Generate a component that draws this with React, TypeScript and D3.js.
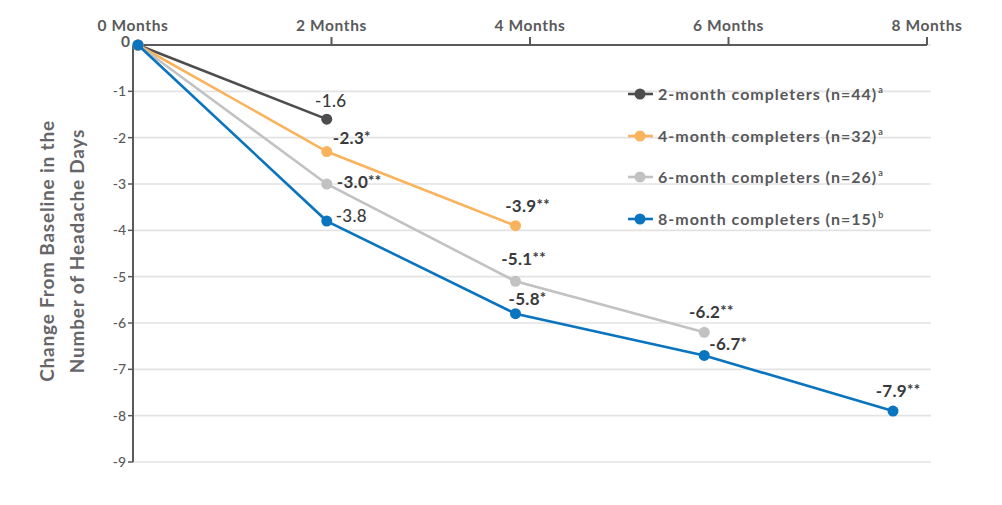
import React from "react";
import * as d3 from "d3";

const monthTicks = [0, 2, 4, 6, 8];
const monthTickLabels = ["0 Months", "2 Months", "4 Months", "6 Months", "8 Months"];
const yTicks = [0, -1, -2, -3, -4, -5, -6, -7, -8, -9];

const seriesNames = [
  "2-month completers (n=44)",
  "4-month completers (n=32)",
  "6-month completers (n=26)",
  "8-month completers (n=15)",
];
const seriesSup = ["a", "a", "a", "b"];
const seriesMonths = [
  [0, 2],
  [0, 2, 4],
  [0, 2, 4, 6],
  [0, 2, 4, 6, 8],
];
const values2 = [0, -1.6];
const values4 = [0, -2.3, -3.9];
const values6 = [0, -3.0, -5.1, -6.2];
const values8 = [0, -3.8, -5.8, -6.7, -7.9];
const labels2 = ["", "-1.6"];
const labels4 = ["", "-2.3*", "-3.9**"];
const labels6 = ["", "-3.0**", "-5.1**", "-6.2**"];
const labels8 = ["", "-3.8", "-5.8*", "-6.7*", "-7.9**"];

const seriesValues = [values2, values4, values6, values8];
const seriesLabels = [labels2, labels4, labels6, labels8];
const colors = ["#4d4d4f", "#f9b35c", "#c2c2c2", "#0a74bf"];

// label placement style: [dx, dy, anchor] per series per point
const labelStyle: [number, number, string][][] = [
  [[0, 0, "middle"], [4, -12, "middle"]],
  [[0, 0, "middle"], [6, -8, "start"], [12, -14, "middle"]],
  [[0, 0, "middle"], [10, 4, "start"], [8, -16, "middle"], [7, -14, "middle"]],
  [[0, 0, "middle"], [9, 1, "start"], [12, -9, "middle"], [5, -5, "start"], [5, -14, "middle"]],
];

const FONT = "Lato, 'Open Sans', sans-serif";

export default function App() {
  const W = 1002;
  const H = 505;
  const axisX = d3.scaleLinear().domain([0, 8]).range([133, 927]);
  const dataX = d3.scaleLinear().domain([0, 8]).range([138, 893]);
  const y = d3.scaleLinear().domain([0, -9]).range([45, 462]);
  const line = d3
    .line<[number, number]>()
    .x((d) => dataX(d[0]))
    .y((d) => y(d[1]));

  return (
    <svg
      width={W}
      height={H}
      style={{ position: "absolute", left: 0, top: 0, background: "#fff" }}
      fontFamily={FONT}
    >
      {/* gridlines */}
      {yTicks.map((t) => (
        <line
          key={"g" + t}
          x1={133}
          x2={931}
          y1={y(t)}
          y2={y(t)}
          stroke="#e3e3e3"
          strokeWidth={1.6}
        />
      ))}
      {/* top axis */}
      <line x1={133} x2={axisX(8)} y1={y(0)} y2={y(0)} stroke="#5a5a5c" strokeWidth={2} />
      {monthTicks.map((m, i) => (
        <g key={"xt" + m}>
          {m > 0 && (
            <line
              x1={axisX(m)}
              x2={axisX(m)}
              y1={y(0)}
              y2={y(0) - 8}
              stroke="#5a5a5c"
              strokeWidth={2}
            />
          )}
          <text
            x={axisX(m)}
            y={31}
            textAnchor="middle"
            fontSize={15.5}
            fontWeight={700}
            letterSpacing={0.6}
            fill="#5a5a5c"
          >
            {monthTickLabels[i]}
          </text>
        </g>
      ))}
      {/* left axis */}
      <line x1={133} x2={133} y1={y(0)} y2={y(-9)} stroke="#5a5a5c" strokeWidth={2} />
      {yTicks.map((t) => (
        <g key={"yt" + t}>
          {t !== 0 && (
            <line x1={128} x2={133} y1={y(t)} y2={y(t)} stroke="#5a5a5c" strokeWidth={1.5} />
          )}
          <text
            x={t === 0 ? 130 : 126}
            y={y(t) + (t === 0 ? 2 : 5)}
            textAnchor="end"
            fontSize={t === 0 ? 15.5 : 14}
            fontWeight={t === 0 ? 700 : 500}
            fill="#5a5a5c"
          >
            {t}
          </text>
        </g>
      ))}
      {/* y title */}
      <g
        transform="translate(0,251) rotate(-90)"
        fill="#666668"
        fontWeight={700}
        fontSize={19}
        letterSpacing={0.8}
      >
        <text x={0} y={54} textAnchor="middle">
          Change From Baseline in the
        </text>
        <text x={0} y={84} textAnchor="middle">
          Number of Headache Days
        </text>
      </g>
      {/* series lines and dots */}
      {seriesValues.map((vals, si) => {
        const pts: [number, number][] = vals.map((v, j) => [seriesMonths[si][j], v]);
        return (
          <g key={"s" + si}>
            <path d={line(pts) || ""} fill="none" stroke={colors[si]} strokeWidth={2.6} />
            {pts.map((p, j) => (
              <circle
                key={j}
                cx={dataX(p[0])}
                cy={y(p[1])}
                r={5.5}
                fill={colors[si]}
              />
            ))}
          </g>
        );
      })}
      {/* data labels */}
      {seriesValues.map((vals, si) =>
        vals.map((v, j) => {
          const lab = seriesLabels[si][j];
          if (!lab) return null;
          const [dx, dy, anchor] = labelStyle[si][j];
          const m = lab.match(/^(-?[\d.]+)(\**)$/);
          const num = m ? m[1] : lab;
          const star = m ? m[2] : "";
          const regular = star === "";
          return (
            <text
              key={"l" + si + "-" + j}
              x={dataX(seriesMonths[si][j]) + dx}
              y={y(v) + dy}
              textAnchor={anchor}
              fontSize={17}
              fontWeight={regular ? 500 : 700}
              letterSpacing={0.3}
              fill="#3a3a3c"
            >
              {num}
              {star && (
                <tspan fontSize={15} dy={-2}>
                  {star}
                </tspan>
              )}
            </text>
          );
        })
      )}
      {/* legend */}
      {seriesNames.map((name, i) => {
        const ly = [94, 136, 177, 219][i];
        return (
          <g key={"lg" + i}>
            <line x1={628} x2={653} y1={ly} y2={ly} stroke={colors[i]} strokeWidth={2.6} />
            <circle cx={640} cy={ly} r={5.5} fill={colors[i]} />
            <text
              x={658}
              y={ly + 6}
              fontSize={16}
              fontWeight={700}
              letterSpacing={1}
              fill="#58585a"
            >
              {name}
              <tspan fontSize={9} dy={-7} dx={1} letterSpacing={0}>
                {seriesSup[i]}
              </tspan>
            </text>
          </g>
        );
      })}
    </svg>
  );
}
